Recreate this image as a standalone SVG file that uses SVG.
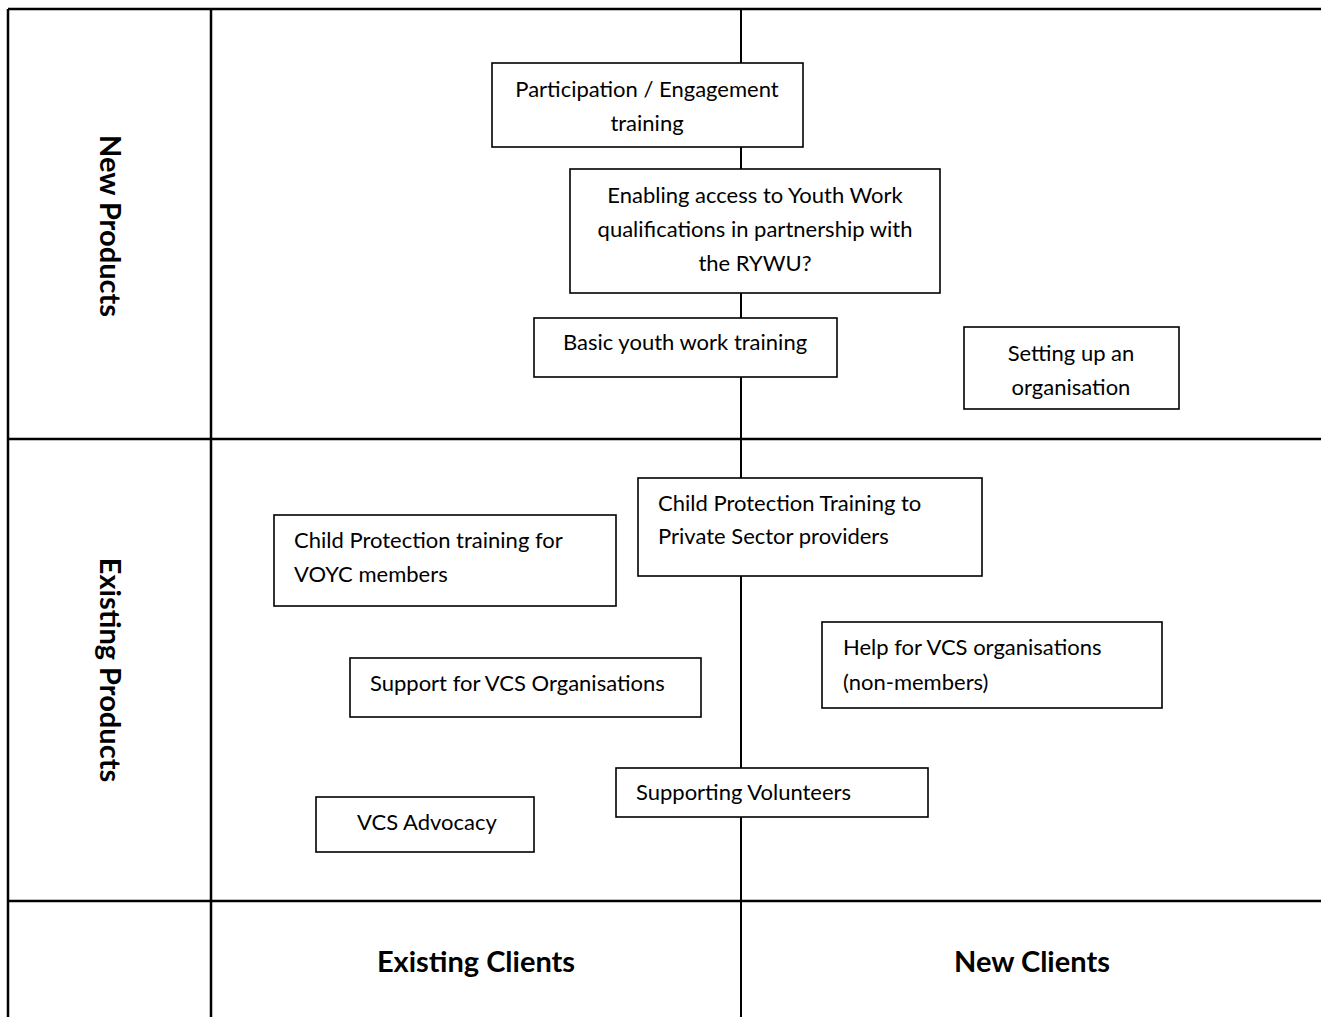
<svg xmlns="http://www.w3.org/2000/svg" width="1321" height="1017" viewBox="0 0 1321 1017">
<style>
.grid{stroke:#000;stroke-width:2.5;fill:none}
.box rect{fill:#fff;stroke:#000;stroke-width:1.6}
.t{font-family:Lato,"Liberation Sans",sans-serif;font-size:22px;fill:#000}
.c{text-anchor:middle}
.h{font-family:Lato,"Liberation Sans",sans-serif;font-weight:bold;font-size:29px;fill:#000;text-anchor:middle}
</style>
<rect width="1321" height="1017" fill="#fff"/>
<g id="grid" class="grid">
<line x1="8" y1="9" x2="1321" y2="9"/>
<line x1="8" y1="9" x2="8" y2="1017"/>
<line x1="211" y1="9" x2="211" y2="1017"/>
<line x1="8" y1="439" x2="1321" y2="439"/>
<line x1="8" y1="901" x2="1321" y2="901"/>
</g>
<g id="connectors">
<line x1="741" y1="9" x2="741" y2="1017" stroke="#000" stroke-width="2"/>
</g>
<g id="n1" class="box"><rect x="492" y="63" width="311" height="84"/><text class="t c" x="647" y="97">Participation / Engagement</text><text class="t c" x="647" y="131">training</text></g>
<g id="n2" class="box"><rect x="570" y="169" width="370" height="124"/><text class="t c" x="755" y="203">Enabling access to Youth Work</text><text class="t c" x="755" y="237">qualifications in partnership with</text><text class="t c" x="755" y="271">the RYWU?</text></g>
<g id="n3" class="box"><rect x="534" y="318" width="303" height="59"/><text class="t" x="563" y="350">Basic youth work training</text></g>
<g id="n4" class="box"><rect x="964" y="327" width="215" height="82"/><text class="t c" x="1071" y="361">Setting up an</text><text class="t c" x="1071" y="395">organisation</text></g>
<g id="n5" class="box"><rect x="638" y="478" width="344" height="98"/><text class="t" x="658" y="511">Child Protection Training to</text><text class="t" x="658" y="544">Private Sector providers</text></g>
<g id="n6" class="box"><rect x="274" y="515" width="342" height="91"/><text class="t" x="294" y="548">Child Protection training for</text><text class="t" x="294" y="582">VOYC members</text></g>
<g id="n7" class="box"><rect x="822" y="622" width="340" height="86"/><text class="t" x="843" y="655">Help for VCS organisations</text><text class="t" x="843" y="690">(non-members)</text></g>
<g id="n8" class="box"><rect x="350" y="658" width="351" height="59"/><text class="t" x="370" y="691">Support for VCS Organisations</text></g>
<g id="n9" class="box"><rect x="616" y="768" width="312" height="49"/><text class="t" x="636" y="800">Supporting Volunteers</text></g>
<g id="n10" class="box"><rect x="316" y="797" width="218" height="55"/><text class="t" x="357" y="830">VCS Advocacy</text></g>
<g id="labels">
<text class="h" x="476" y="972">Existing Clients</text>
<text class="h" x="1032" y="972">New Clients</text>
<text class="h" transform="translate(100,226) rotate(90)">New Products</text>
<text class="h" transform="translate(100,670) rotate(90)">Existing Products</text>
</g>
</svg>
